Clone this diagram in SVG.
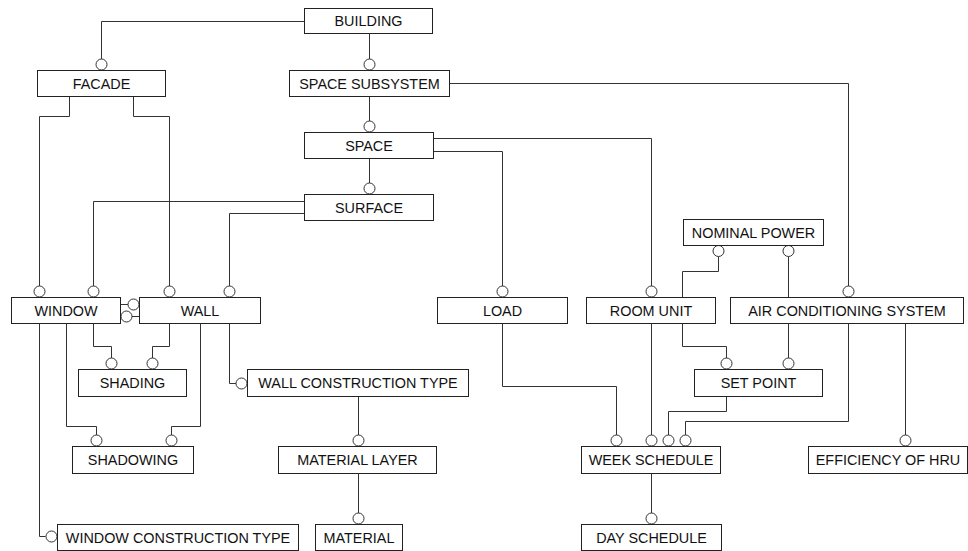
<svg xmlns="http://www.w3.org/2000/svg" width="968" height="551" viewBox="0 0 968 551">
<style>
.box{fill:#fff;stroke:#222;stroke-width:1}
.lbl{font-family:"Liberation Sans",Arial,sans-serif;font-size:14.4px;fill:#111;text-anchor:middle}
.ln{fill:none;stroke:#333;stroke-width:1}
.ci{fill:#fff;stroke:#333;stroke-width:1}
</style>
<rect width="968" height="551" fill="#fff"/>
<g id="connectors">
<path class="ln" d="M304.5,21.5 H101.5 V59"/><circle class="ci" cx="101.5" cy="64.5" r="5.5"/>
<path class="ln" d="M369.5,33.5 V59"/><circle class="ci" cx="369.5" cy="64.5" r="5.5"/>
<path class="ln" d="M369.5,96.5 V121"/><circle class="ci" cx="369.5" cy="126.5" r="5.5"/>
<path class="ln" d="M369.5,158.5 V183"/><circle class="ci" cx="369.5" cy="188.5" r="5.5"/>
<path class="ln" d="M449.5,83.5 H848.5 V286"/><circle class="ci" cx="848.5" cy="291.5" r="5.5"/>
<path class="ln" d="M433.5,138.5 H651.5 V286"/><circle class="ci" cx="651.5" cy="291.5" r="5.5"/>
<path class="ln" d="M433.5,151.5 H502.5 V286"/><circle class="ci" cx="502.5" cy="291.5" r="5.5"/>
<path class="ln" d="M69.5,96.5 V116.5 H39.5 V286"/><circle class="ci" cx="39.5" cy="291.5" r="5.5"/>
<path class="ln" d="M133.5,96.5 V116.5 H169.5 V286"/><circle class="ci" cx="169.5" cy="291.5" r="5.5"/>
<path class="ln" d="M304.5,201.5 H93.5 V286"/><circle class="ci" cx="93.5" cy="291.5" r="5.5"/>
<path class="ln" d="M304.5,213.5 H229.5 V286"/><circle class="ci" cx="229.5" cy="291.5" r="5.5"/>
<path class="ln" d="M120.5,304.5 H128"/><circle class="ci" cx="133.5" cy="304.5" r="5.5"/>
<path class="ln" d="M139.5,316.5 H132"/><circle class="ci" cx="126.5" cy="316.5" r="5.5"/>
<path class="ln" d="M93.5,323.5 V346.5 H111.5 V358"/><circle class="ci" cx="111.5" cy="363.5" r="5.5"/>
<path class="ln" d="M169.5,323.5 V346.5 H152.5 V358"/><circle class="ci" cx="152.5" cy="363.5" r="5.5"/>
<path class="ln" d="M66.5,323.5 V426.5 H96.5 V435"/><circle class="ci" cx="96.5" cy="440.5" r="5.5"/>
<path class="ln" d="M200.5,323.5 V426.5 H171.5 V435"/><circle class="ci" cx="171.5" cy="440.5" r="5.5"/>
<path class="ln" d="M229.5,323.5 V383.5 H236"/><circle class="ci" cx="241.5" cy="383.5" r="5.5"/>
<path class="ln" d="M39.5,323.5 V536.5 H45.5"/><circle class="ci" cx="51.5" cy="536.5" r="5.5"/>
<path class="ln" d="M358.5,396.5 V435"/><circle class="ci" cx="358.5" cy="440.5" r="5.5"/>
<path class="ln" d="M358.5,473.5 V513"/><circle class="ci" cx="358.5" cy="518.5" r="5.5"/>
<path class="ln" d="M682.5,297.5 V271.5 H718.5 V256.5"/><circle class="ci" cx="718.5" cy="251" r="5.5"/>
<path class="ln" d="M788.5,297.5 V256.5"/><circle class="ci" cx="788.5" cy="251" r="5.5"/>
<path class="ln" d="M682.5,323.5 V346.5 H726.5 V358"/><circle class="ci" cx="726.5" cy="363.5" r="5.5"/>
<path class="ln" d="M788.5,323.5 V358"/><circle class="ci" cx="788.5" cy="363.5" r="5.5"/>
<path class="ln" d="M502.5,323.5 V386.5 H616.5 V435"/><circle class="ci" cx="616.5" cy="440.5" r="5.5"/>
<path class="ln" d="M651.5,323.5 V435"/><circle class="ci" cx="651.5" cy="440.5" r="5.5"/>
<path class="ln" d="M726.5,396.5 V411.5 H668.5 V435"/><circle class="ci" cx="668.5" cy="440.5" r="5.5"/>
<path class="ln" d="M848.5,323.5 V421.5 H685.5 V435"/><circle class="ci" cx="685.5" cy="440.5" r="5.5"/>
<path class="ln" d="M905.5,323.5 V435"/><circle class="ci" cx="905.5" cy="440.5" r="5.5"/>
<path class="ln" d="M651.5,473.5 V513"/><circle class="ci" cx="651.5" cy="518.5" r="5.5"/>
</g>
<g id="building"><rect class="box" x="304.5" y="8.5" width="128" height="25"/><text class="lbl" x="368.5" y="26">BUILDING</text></g>
<g id="facade"><rect class="box" x="37.5" y="70.5" width="128" height="26"/><text class="lbl" x="101.5" y="88.5">FACADE</text></g>
<g id="space-subsystem"><rect class="box" x="289.5" y="70.5" width="160" height="26"/><text class="lbl" x="369.5" y="88.5">SPACE SUBSYSTEM</text></g>
<g id="space"><rect class="box" x="304.5" y="132.5" width="129" height="26"/><text class="lbl" x="369" y="150.5">SPACE</text></g>
<g id="surface"><rect class="box" x="304.5" y="194.5" width="129" height="26"/><text class="lbl" x="369" y="212.5">SURFACE</text></g>
<g id="nominal-power"><rect class="box" x="683.5" y="219.5" width="140" height="26"/><text class="lbl" x="753.5" y="237.5">NOMINAL POWER</text></g>
<g id="window"><rect class="box" x="11.5" y="297.5" width="109" height="26"/><text class="lbl" x="66" y="315.5">WINDOW</text></g>
<g id="wall"><rect class="box" x="139.5" y="297.5" width="121" height="26"/><text class="lbl" x="200" y="315.5">WALL</text></g>
<g id="load"><rect class="box" x="437.5" y="297.5" width="130" height="26"/><text class="lbl" x="502.5" y="315.5">LOAD</text></g>
<g id="room-unit"><rect class="box" x="586.5" y="297.5" width="129" height="26"/><text class="lbl" x="651" y="315.5">ROOM UNIT</text></g>
<g id="air-conditioning-system"><rect class="box" x="730.5" y="297.5" width="233" height="26"/><text class="lbl" x="847" y="315.5">AIR CONDITIONING SYSTEM</text></g>
<g id="shading"><rect class="box" x="78.5" y="369.5" width="108" height="27"/><text class="lbl" x="132.5" y="388">SHADING</text></g>
<g id="wall-construction-type"><rect class="box" x="247.5" y="369.5" width="221" height="27"/><text class="lbl" x="358" y="388">WALL CONSTRUCTION TYPE</text></g>
<g id="set-point"><rect class="box" x="694.5" y="369.5" width="128" height="27"/><text class="lbl" x="758.5" y="388">SET POINT</text></g>
<g id="shadowing"><rect class="box" x="72.5" y="446.5" width="121" height="27"/><text class="lbl" x="133" y="465">SHADOWING</text></g>
<g id="material-layer"><rect class="box" x="278.5" y="446.5" width="158" height="27"/><text class="lbl" x="357.5" y="465">MATERIAL LAYER</text></g>
<g id="week-schedule"><rect class="box" x="581.5" y="446.5" width="139" height="27"/><text class="lbl" x="651" y="465">WEEK SCHEDULE</text></g>
<g id="efficiency-of-hru"><rect class="box" x="808.5" y="446.5" width="159" height="27"/><text class="lbl" x="888" y="465">EFFICIENCY OF HRU</text></g>
<g id="window-construction-type"><rect class="box" x="57.5" y="524.5" width="241" height="26"/><text class="lbl" x="178" y="542.5">WINDOW CONSTRUCTION TYPE</text></g>
<g id="material"><rect class="box" x="315.5" y="524.5" width="87" height="26"/><text class="lbl" x="359" y="542.5">MATERIAL</text></g>
<g id="day-schedule"><rect class="box" x="581.5" y="524.5" width="140" height="26"/><text class="lbl" x="651.5" y="542.5">DAY SCHEDULE</text></g>
</svg>
